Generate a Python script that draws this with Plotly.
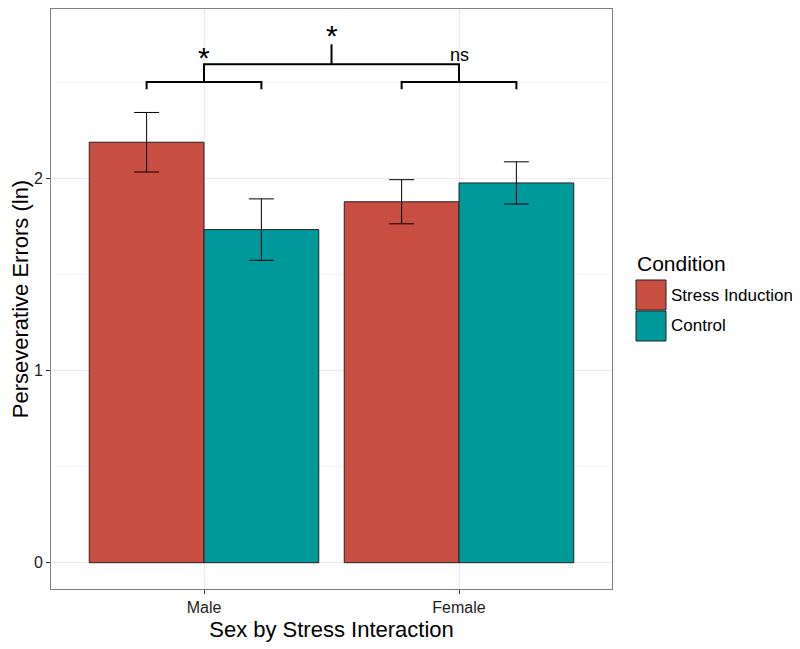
import plotly.graph_objects as go

# ---- data ----
sex = ["Male", "Female"]
conditions = ["Stress Induction", "Control"]
stress_means = [2.19, 1.88]
stress_err = [0.155, 0.115]
control_means = [1.735, 1.978]
control_err = [0.16, 0.11]
colors = ["#C94E42", "#00999B"]

# significance labels
bracket_labels = ["*", "ns", "*"]

xpos = [0, 1]
fig = go.Figure()
for name, means, errs, col in [
    (conditions[0], stress_means, stress_err, colors[0]),
    (conditions[1], control_means, control_err, colors[1]),
]:
    fig.add_trace(go.Bar(
        x=xpos, y=means, name=name, marker=dict(color=col, line=dict(color="#222", width=1)),
        error_y=dict(type="data", array=errs, visible=True, color="black", thickness=1, width=12.5),
        showlegend=False,
    ))

half = 0.225
lw = 2
def line(xs, ys):
    fig.add_trace(go.Scatter(x=xs, y=ys, mode="lines", line=dict(color="black", width=lw),
                             showlegend=False, hoverinfo="skip"))

# Male bracket
line([-half, -half, half, half], [2.466, 2.504, 2.504, 2.466])
# Female bracket
line([1 - half, 1 - half, 1 + half, 1 + half], [2.466, 2.504, 2.504, 2.466])
# stems + top bracket
line([0, 0, 1, 1], [2.504, 2.596, 2.596, 2.504])
line([0.5, 0.5], [2.596, 2.70])

fig.add_annotation(x=0, y=2.595, text=bracket_labels[0], showarrow=False, yanchor="bottom",
                   font=dict(size=30, color="black", family="Liberation Sans"), yshift=-12)
fig.add_annotation(x=1, y=2.60, text=bracket_labels[1], showarrow=False, yanchor="bottom",
                   font=dict(size=18, color="black", family="Liberation Sans"), yshift=-3)
fig.add_annotation(x=0.5, y=2.70, text=bracket_labels[2], showarrow=False, yanchor="bottom",
                   font=dict(size=30, color="black", family="Liberation Sans"), yshift=-10)

# manual legend (pixel positions relative to plot area 51..612 x, 9..589 y on page)
def px2px(x):
    return (x - 51) / 561
def py2py(y):
    return (589 - y) / 580

fig.add_annotation(xref="paper", yref="paper", x=px2px(635), y=py2py(263), text="Condition",
                   showarrow=False, xanchor="left", yanchor="middle",
                   font=dict(size=21, color="black", family="Liberation Sans"))
for i, (name, col) in enumerate(zip(conditions, colors)):
    y0 = 280 + 31 * i
    fig.add_shape(type="rect", xref="paper", yref="paper",
                  x0=px2px(636), x1=px2px(666), y0=py2py(y0), y1=py2py(y0 + 30),
                  fillcolor=col, line=dict(color="#222", width=1))
    fig.add_annotation(xref="paper", yref="paper", x=px2px(669), y=py2py(y0 + 15), text=name,
                       showarrow=False, xanchor="left", yanchor="middle",
                       font=dict(size=17, color="black", family="Liberation Sans"))

# page body has an 8px margin, so the figure is offset by (8, 8)
fig.update_layout(
    width=792, height=641,
    margin=dict(l=43, r=188, t=1, b=60, autoexpand=False),
    barmode="group", bargap=0.1, bargroupgap=0,
    plot_bgcolor="white", paper_bgcolor="white",
    font=dict(family="Liberation Sans", color="black"),
    showlegend=False,
)
fig.update_xaxes(
    range=[-0.6, 1.6], tickvals=xpos, ticktext=sex, automargin=False,
    showgrid=True, gridcolor="#ebebeb", gridwidth=1, zeroline=False,
    showline=True, linecolor="#7f7f7f", linewidth=1, mirror=True,
    ticks="outside", ticklen=4, tickcolor="#333",
    tickfont=dict(size=16, color="#222"),
    title=dict(text="Sex by Stress Interaction", font=dict(size=22), standoff=6),
)
fig.update_yaxes(
    range=[-0.137, 2.884], tickvals=[0, 1, 2], automargin=False,
    showgrid=True, gridcolor="#ebebeb", gridwidth=1, zeroline=False,
    minor=dict(tickvals=[0.5, 1.5, 2.5], showgrid=True, gridcolor="#f5f5f5", gridwidth=1, ticks=""),
    showline=True, linecolor="#7f7f7f", linewidth=1, mirror=True,
    ticks="outside", ticklen=4, tickcolor="#333",
    tickfont=dict(size=16, color="#222"),
    title=dict(text="Perseverative Errors (ln)", font=dict(size=22), standoff=6),
)

fig.write_html("out.html")
